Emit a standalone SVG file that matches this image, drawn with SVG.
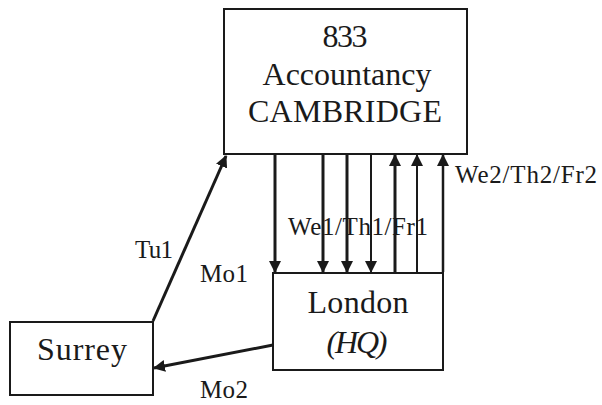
<svg xmlns="http://www.w3.org/2000/svg" width="602" height="405" viewBox="0 0 602 405">
<style>
.box{fill:#fff;stroke:#1a1a1a;stroke-width:2}
.t{font-family:"Liberation Serif","Times New Roman",serif;fill:#1a1a1a;text-anchor:middle}
.big{font-size:32px}
.lbl{font-size:25px;text-anchor:start}
.c{stroke:#1a1a1a;fill:none}
</style>
<defs>
<marker id="ah" viewBox="0 0 12 12" refX="11" refY="6" markerWidth="12" markerHeight="12" markerUnits="userSpaceOnUse" orient="auto">
<path d="M0,0 L12,6 L0,12 Z" fill="#1a1a1a"/>
</marker>
</defs>
<rect width="602" height="405" fill="#fff"/>
<g id="cambridge">
<rect class="box" x="224" y="9" width="243" height="145"/>
<text class="t big" x="345" y="47" textLength="45">833</text>
<text class="t big" x="347" y="85" textLength="169">Accountancy</text>
<text class="t big" x="345" y="122" textLength="194">CAMBRIDGE</text>
</g>
<g id="london">
<rect class="box" x="273" y="273" width="170" height="97"/>
<text class="t big" x="358" y="313" textLength="101">London</text>
<text class="t big" x="357" y="353" font-style="italic" textLength="61">(HQ)</text>
</g>
<g id="surrey">
<rect class="box" x="10" y="322" width="143" height="73"/>
<text class="t big" x="82" y="360" textLength="90">Surrey</text>
</g>
<g id="connectors">
<line class="c" x1="275" y1="155" x2="275" y2="272" stroke-width="3" marker-end="url(#ah)"/>
<line class="c" x1="323" y1="155" x2="323" y2="272" stroke-width="3" marker-end="url(#ah)"/>
<line class="c" x1="347" y1="155" x2="347" y2="272" stroke-width="3" marker-end="url(#ah)"/>
<line class="c" x1="371" y1="155" x2="371" y2="272" stroke-width="2" marker-end="url(#ah)"/>
<line class="c" x1="395" y1="272" x2="395" y2="155" stroke-width="3" marker-end="url(#ah)"/>
<line class="c" x1="417" y1="272" x2="417" y2="155" stroke-width="2" marker-end="url(#ah)"/>
<line class="c" x1="443" y1="272" x2="443" y2="155" stroke-width="2.5" marker-end="url(#ah)"/>
<line class="c" x1="153" y1="321" x2="226" y2="156" stroke-width="3" marker-end="url(#ah)"/>
<line class="c" x1="273" y1="345" x2="154" y2="368" stroke-width="3" marker-end="url(#ah)"/>
<text class="t lbl" x="288" y="235" textLength="140">We1/Th1/Fr1</text>
<text class="t lbl" x="455" y="183" textLength="142">We2/Th2/Fr2</text>
<text class="t lbl" x="135" y="258" textLength="38">Tu1</text>
<text class="t lbl" x="200" y="282" textLength="48">Mo1</text>
<text class="t lbl" x="200" y="398" textLength="48">Mo2</text>
</g>
</svg>
